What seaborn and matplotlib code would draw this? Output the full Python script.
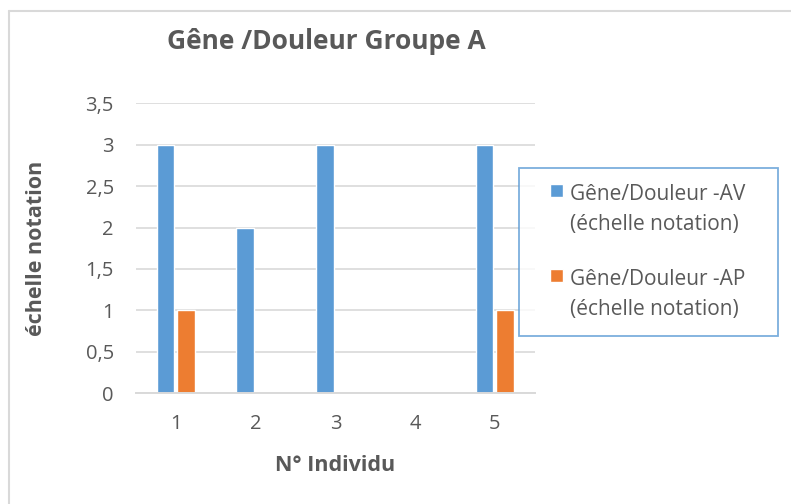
import pandas as pd
import seaborn as sns
import matplotlib.pyplot as plt
from matplotlib.patches import Rectangle
from matplotlib.lines import Line2D
from matplotlib.legend_handler import HandlerPatch
from matplotlib.ticker import FuncFormatter

# données
individus = ["1", "2", "3", "4", "5"]
av = [3, 2, 3, 0, 3]
ap = [1, 0, 0, 0, 1]
series = ["Gêne/Douleur -AV\n(échelle notation)", "Gêne/Douleur -AP\n(échelle notation)"]

df = pd.DataFrame({
    "Individu": individus * 2,
    "Valeur": av + ap,
    "Serie": [series[0]] * 5 + [series[1]] * 5,
})

sns.set_theme(style="white")
plt.rcParams["font.family"] = ["Open Sans", "DejaVu Sans"]
txt = "#595959"

fig = plt.figure(figsize=(7.91, 5.04), dpi=100)
ax = fig.add_axes([0.172, 0.220, 0.504, 0.575])

sns.barplot(data=df, x="Individu", y="Valeur", hue="Serie", ax=ax,
            palette=["#5B9BD5", "#ED7D31"], width=0.52, gap=0.15,
            saturation=1, legend=True)

ax.set_ylim(0, 3.5)
ax.set_yticks([0, 0.5, 1, 1.5, 2, 2.5, 3, 3.5])
ax.yaxis.set_major_formatter(FuncFormatter(lambda v, p: f"{v:g}".replace(".", ",")))
ax.grid(axis="y", color="#D9D9D9", linewidth=1.2)
ax.set_axisbelow(True)
for s in ["top", "right", "left"]:
    ax.spines[s].set_visible(False)
ax.spines["bottom"].set_color("#D9D9D9")
ax.spines["bottom"].set_linewidth(1.4)
ax.tick_params(axis="both", length=0, labelsize=14.5, labelcolor=txt)
ax.tick_params(axis="y", pad=16)
ax.tick_params(axis="x", pad=15)

ax.set_xlabel("N° Individu", fontsize=15.5, fontweight="bold", color=txt)
ax.set_ylabel("échelle notation", fontsize=15.5, fontweight="bold", color=txt)
ax.xaxis.set_label_coords(0.5, -0.25)
ax.xaxis.label.set_va("center")
ax.yaxis.set_label_coords(-0.25, 0.5)
ax.yaxis.label.set_va("center")
fig.text(0.413, 0.918, "Gêne /Douleur Groupe A", ha="center", va="center",
         fontsize=19, fontweight="bold", color=txt)


def carre(legend, orig_handle, xdescent, ydescent, width, height, fontsize):
    s = 9.5
    return Rectangle((-xdescent + width - s - 1.5, -ydescent + 14), s, s)


handles, labels = ax.get_legend_handles_labels()
ax.get_legend().remove()
leg = fig.legend(handles, labels, loc="center", mode="expand",
                 bbox_to_anchor=(0.6435, 0.32, 0.3527, 0.36),
                 frameon=True, fancybox=False, fontsize=15, labelcolor=txt,
                 handlelength=1.45, handleheight=0.55, handletextpad=0.25,
                 labelspacing=1.65, borderpad=0.75,
                 handler_map={h: HandlerPatch(patch_func=carre) for h in handles})
leg.get_frame().set_edgecolor("#5B9BD5")
leg.get_frame().set_linewidth(1.3)
for t in leg.get_texts():
    t.set_linespacing(1.55)

# cadre du graphique (haut et gauche seulement)
fig.add_artist(Line2D([0.0115, 1.0], [0.978, 0.978], transform=fig.transFigure,
                      color="#D9D9D9", linewidth=1.5))
fig.add_artist(Line2D([0.0115, 0.0115], [0.0, 0.978], transform=fig.transFigure,
                      color="#D9D9D9", linewidth=1.5))

fig.savefig("out.png", dpi=100)
